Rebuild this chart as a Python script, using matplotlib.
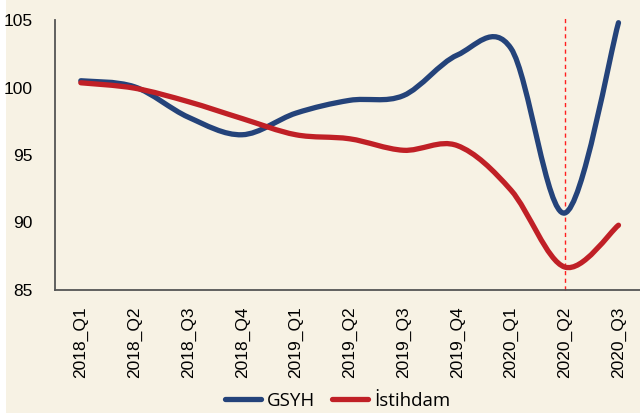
import matplotlib
matplotlib.use("Agg")
from matplotlib import pyplot as plt
from matplotlib.path import Path
from matplotlib.patches import PathPatch, Rectangle
from matplotlib.lines import Line2D
import numpy as np

quarters = ["2018_Q1", "2018_Q2", "2018_Q3", "2018_Q4",
            "2019_Q1", "2019_Q2", "2019_Q3", "2019_Q4",
            "2020_Q1", "2020_Q2", "2020_Q3"]
gsyh = [100.5, 100.05, 97.8, 96.5, 98.1, 99.05, 99.4, 102.4, 102.9, 90.7, 104.8]
istihdam = [100.35, 99.95, 98.95, 97.7, 96.5, 96.2, 95.35, 95.7, 92.4, 86.7, 89.8]

bg = "#f7f2e4"
blue = "#24437a"
red = "#c02026"


def smooth_path(xs, ys):
    # excel-like smoothed line: bezier segments with catmull-rom tangents
    pts = np.column_stack([xs, ys]).astype(float)
    n = len(pts)
    verts = [pts[0]]
    codes = [Path.MOVETO]
    for i in range(n - 1):
        p0 = pts[i - 1] if i > 0 else pts[i]
        p1 = pts[i]
        p2 = pts[i + 1]
        p3 = pts[i + 2] if i + 2 < n else pts[i + 1]
        c1 = p1 + (p2 - p0) / 6.0
        c2 = p2 - (p3 - p1) / 6.0
        verts += [c1, c2, p2]
        codes += [Path.CURVE4] * 3
    return Path(verts, codes)


fig = plt.figure(figsize=(6.4, 4.13), dpi=100, facecolor=bg)
fig.patches.append(Rectangle((0, 0), 6 / 640, 1, transform=fig.transFigure,
                             facecolor="white", edgecolor="none", zorder=-1))
ax = fig.add_axes([55 / 640, 123 / 413, 585 / 640, 270 / 413])
ax.set_facecolor(bg)

x = np.arange(len(quarters))
for vals, col in [(gsyh, blue), (istihdam, red)]:
    ax.add_patch(PathPatch(smooth_path(x, vals), facecolor="none", edgecolor=col,
                           lw=3.8, capstyle="round", joinstyle="round", zorder=3))

ax.plot([9, 9], [85, 105.3], color="#ff2020", lw=1, ls=(0, (3, 2.5)),
        clip_on=False, zorder=2)

ax.set_xlim(-0.48, 10.4)
ax.set_ylim(85, 105)
ax.set_yticks([85, 90, 95, 100, 105])
ax.set_xticks(x)
ax.set_xticklabels(quarters, rotation=90, fontsize=12.5, family="Liberation Sans")
for t in ax.get_yticklabels():
    t.set_fontsize(12.5)
    t.set_family("Liberation Sans")
ax.tick_params(axis="y", length=0, pad=16)
ax.tick_params(axis="x", length=0, pad=12)
for s in ["top", "right"]:
    ax.spines[s].set_visible(False)
for s in ["left", "bottom"]:
    ax.spines[s].set_color("#555555")
    ax.spines[s].set_linewidth(1.3)

handles = [Line2D([], [], color=blue, lw=3.8, solid_capstyle="round"),
           Line2D([], [], color=red, lw=3.8, solid_capstyle="round")]
fig.legend(handles, ["GSYH", "İstihdam"], loc="center", bbox_to_anchor=(338 / 640, 1 - 401 / 413),
           ncol=2, frameon=False, prop={"family": "Open Sans", "size": 13.5},
           handlelength=1.9, handletextpad=0.35, columnspacing=0.9)

fig.savefig("out.png", dpi=100, facecolor=bg)
